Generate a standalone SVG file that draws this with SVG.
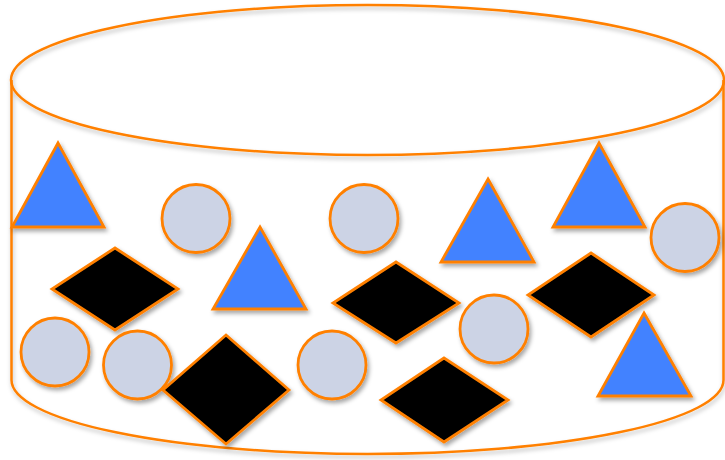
<svg xmlns="http://www.w3.org/2000/svg" width="725" height="460" viewBox="0 0 725 460">
  <defs>
    <filter id="sh" x="-20%" y="-20%" width="140%" height="140%">
      <feDropShadow dx="2" dy="3" stdDeviation="2" flood-color="#000" flood-opacity="0.35"/>
    </filter>
    <filter id="shc" x="-5%" y="-10%" width="110%" height="120%">
      <feDropShadow dx="1" dy="3" stdDeviation="2" flood-color="#000" flood-opacity="0.25"/>
    </filter>
  </defs>
  <style>
    .cyl { fill: none; stroke: #FF8000; stroke-width: 2.5; }
    .tri { fill: #4282FF; stroke: #FF8000; stroke-width: 2.8; stroke-linejoin: miter; filter: url(#sh); }
    .cir { fill: #CCD3E5; stroke: #FF8000; stroke-width: 2.8; filter: url(#sh); }
    .dia { fill: #000000; stroke: #FF8000; stroke-width: 2.8; filter: url(#sh); }
  </style>
  <rect width="725" height="460" fill="#FFFFFF"/>
  <g id="cylinder" filter="url(#shc)">
    <ellipse class="cyl" cx="367.5" cy="80" rx="356.5" ry="75"/>
    <path class="cyl" d="M11.5,80 L11.5,380 A356,74 0 0 0 723.5,380 L723.5,80"/>
  </g>
  <g id="triangle1"><polygon class="tri" points="58,143 104,227 12,227"/></g>
  <g id="circle1"><circle class="cir" cx="196" cy="218.5" r="34"/></g>
  <g id="circle2"><circle class="cir" cx="364" cy="218.5" r="34"/></g>
  <g id="triangle2"><polygon class="tri" points="260,227 306,309 213,309"/></g>
  <g id="triangle3"><polygon class="tri" points="488,179 534,262 441,262"/></g>
  <g id="triangle4"><polygon class="tri" points="599,143 645,227 553,227"/></g>
  <g id="circle3"><circle class="cir" cx="685" cy="237.5" r="34"/></g>
  <g id="diamond1"><polygon class="dia" points="115,248 178,289 115,330 52,289"/></g>
  <g id="circle4"><circle class="cir" cx="55" cy="352" r="34"/></g>
  <g id="circle5"><circle class="cir" cx="137.5" cy="365" r="34"/></g>
  <g id="diamond2"><polygon class="dia" points="226,335 289,390 226,444 163,390"/></g>
  <g id="circle6"><circle class="cir" cx="332" cy="365" r="34"/></g>
  <g id="diamond3"><polygon class="dia" points="396,262 459,303 396,343 333,303"/></g>
  <g id="circle7"><circle class="cir" cx="494" cy="329" r="34"/></g>
  <g id="diamond4"><polygon class="dia" points="591,253 654,295 591,337 528,295"/></g>
  <g id="triangle5"><polygon class="tri" points="644,313 691,396 598,396"/></g>
  <g id="diamond5"><polygon class="dia" points="444,358 508,400 444,442 381,400"/></g>
</svg>
